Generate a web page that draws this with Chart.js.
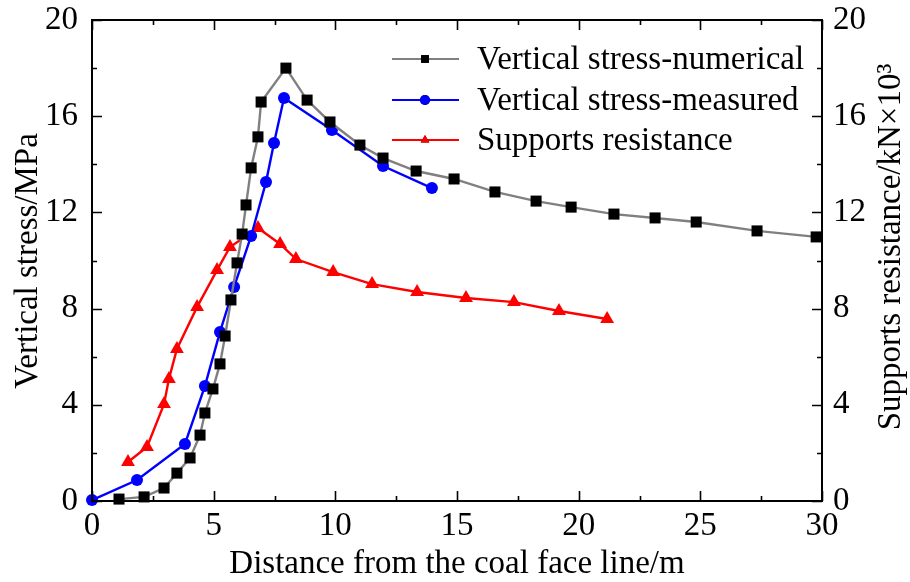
<!DOCTYPE html>
<html>
<head>
<meta charset="utf-8">
<script src="https://cdn.jsdelivr.net/npm/chart.js@4/dist/chart.umd.min.js"></script>
<style>
    html, body { margin: 0; padding: 0; background: #fff; }
</style>
</head>
<body>
<canvas id="myChart" width="910" height="582"></canvas>
<script>
// Vertical stress - numerical (distance m, stress MPa)
const numX = [1.11, 2.14, 2.96, 3.49, 4.03, 4.44, 4.64, 4.97, 5.26, 5.47, 5.71, 5.96, 6.17, 6.33, 6.54, 6.82, 6.95,
    7.97, 8.84, 9.78, 11.01, 11.96, 13.32, 14.88, 16.56, 18.25, 19.69, 21.45, 23.14, 24.83, 27.33, 29.76];
const numY = [0.08, 0.17, 0.54, 1.16, 1.79, 2.74, 3.66, 4.66, 5.70, 6.86, 8.36, 9.90, 11.10, 12.31, 13.85, 15.14, 16.59,
    18.00, 16.67, 15.76, 14.80, 14.26, 13.72, 13.39, 12.85, 12.47, 12.22, 11.93, 11.77, 11.60, 11.23, 10.98];

// Vertical stress - measured
const measX = [0, 1.85, 3.82, 4.64, 5.26, 5.84, 6.54, 7.15, 7.48, 7.89, 9.86, 11.96, 13.97];
const measY = [0.04, 0.87, 2.37, 4.78, 7.03, 8.90, 11.02, 13.26, 14.89, 16.76, 15.43, 13.93, 13.01];

// Supports resistance (kN x 10^3)
const supX = [1.48, 2.26, 2.96, 3.16, 3.49, 4.32, 5.14, 5.67, 6.82, 7.73, 8.38, 9.91, 11.51, 13.36, 15.37, 17.34, 19.19, 21.17];
const supY = [1.62, 2.25, 4.03, 5.07, 6.32, 8.07, 9.60, 10.56, 11.35, 10.69, 10.06, 9.52, 9.02, 8.69, 8.44, 8.27, 7.90, 7.57];

const xTicks = [0, 5, 10, 15, 20, 25, 30];
const yTicks = [0, 4, 8, 12, 16, 20];

const labels = ['Vertical stress-numerical', 'Vertical stress-measured', 'Supports resistance'];

const FONT = '"Liberation Serif", "Times New Roman", serif';
const FS = 33;

function pts(xs, ys) {
    return xs.map((x, i) => ({ x: x, y: ys[i] }));
}

// box, inward ticks, y titles and the line+marker legend
const framePlugin = {
    id: 'frame',
    afterDraw(chart) {
        const ctx = chart.ctx;
        const a = chart.chartArea;
        const xs = chart.scales.x;
        const ys = chart.scales.y;
        ctx.save();
        ctx.strokeStyle = '#000';
        ctx.lineWidth = 2;
        ctx.strokeRect(a.left, a.top, a.right - a.left, a.bottom - a.top);

        ctx.lineWidth = 1.6;
        ctx.beginPath();
        for (let v = 0; v <= 30; v += 2.5) {
            const px = Math.round(xs.getPixelForValue(v)) + 0.5;
            const len = (v % 5 === 0) ? 10 : 5;
            ctx.moveTo(px, a.bottom); ctx.lineTo(px, a.bottom - len);
            ctx.moveTo(px, a.top); ctx.lineTo(px, a.top + len);
        }
        for (let v = 0; v <= 20; v += 2) {
            const py = Math.round(ys.getPixelForValue(v)) + 0.5;
            const len = (v % 4 === 0) ? 10 : 5;
            ctx.moveTo(a.left, py); ctx.lineTo(a.left + len, py);
            ctx.moveTo(a.right, py); ctx.lineTo(a.right - len, py);
        }
        ctx.stroke();

        // axis titles on the sides (both read bottom to top)
        ctx.fillStyle = '#000';
        ctx.font = FS + 'px ' + FONT;
        ctx.textAlign = 'center';
        ctx.textBaseline = 'middle';
        ctx.save();
        ctx.translate(28, 261);
        ctx.rotate(-Math.PI / 2);
        ctx.fillText('Vertical stress/MPa', 0, 0);
        ctx.restore();
        ctx.save();
        ctx.translate(891, 247);
        ctx.rotate(-Math.PI / 2);
        ctx.fillText('Supports resistance/kN\u00d710\u00b3', 0, 0);
        ctx.restore();

        // legend
        const rows = [59, 100, 140];
        chart.data.datasets.forEach((ds, i) => {
            const y = rows[i];
            ctx.strokeStyle = ds.borderColor;
            ctx.lineWidth = 2.2;
            ctx.beginPath();
            ctx.moveTo(392, y); ctx.lineTo(459, y);
            ctx.stroke();
            Chart.helpers.drawPoint(ctx, {
                pointStyle: ds.pointStyle, radius: ds.pointStyle === 'rect' ? 5.5 : 5,
                rotation: 0, borderWidth: 0
            }, 425, y);
            ctx.fillStyle = ds.pointBackgroundColor;
            ctx.fill();
            ctx.fillStyle = '#000';
            ctx.font = FS + 'px ' + FONT;
            ctx.textAlign = 'left';
            ctx.textBaseline = 'middle';
            ctx.fillText(ds.label, 477, y + 1);
        });
        ctx.restore();
    }
};

function fitY(w) {
    return (s) => {
        s.width = w;
        s.paddingTop = 20;
        s.paddingBottom = 0;
    };
}

const ctx = document.getElementById('myChart');

new Chart(ctx, {
    type: 'line',
    data: {
        datasets: [{
            label: labels[0],
            data: pts(numX, numY),
            borderColor: '#808080',
            borderWidth: 2.4,
            pointStyle: 'rect',
            pointRadius: 7.8,
            pointBackgroundColor: '#000',
            pointBorderWidth: 0,
            yAxisID: 'y'
        }, {
            label: labels[1],
            data: pts(measX, measY),
            borderColor: '#0000ff',
            borderWidth: 2.4,
            pointStyle: 'circle',
            pointRadius: 6,
            pointBackgroundColor: '#0000ff',
            pointBorderWidth: 0,
            yAxisID: 'y'
        }, {
            label: labels[2],
            data: pts(supX, supY),
            borderColor: '#ff0000',
            borderWidth: 2.4,
            pointStyle: 'triangle',
            pointRadius: 8,
            pointBackgroundColor: '#ff0000',
            pointBorderWidth: 0,
            yAxisID: 'y2'
        }]
    },
    options: {
        responsive: false,
        animation: false,
        clip: false,
        layout: { padding: 0 },
        plugins: {
            legend: { display: false },
            tooltip: { enabled: false }
        },
        scales: {
            x: {
                type: 'linear',
                min: 0,
                max: 30,
                afterFit: (s) => { s.height = 81; s.paddingLeft = 0; s.paddingRight = 0; },
                afterBuildTicks: (s) => { s.ticks = xTicks.map(v => ({ value: v })); },
                grid: { display: false, drawTicks: false },
                border: { display: false },
                ticks: { color: '#000', padding: 6, font: { family: FONT, size: FS } },
                title: {
                    display: true,
                    text: 'Distance from the coal face line/m',
                    color: '#000',
                    padding: { top: 0, bottom: 0 },
                    font: { family: FONT, size: FS, lineHeight: 1.1 }
                }
            },
            y: {
                position: 'left',
                min: 0,
                max: 20,
                afterFit: fitY(92),
                afterBuildTicks: (s) => { s.ticks = yTicks.map(v => ({ value: v })); },
                grid: { display: false, drawTicks: false },
                border: { display: false },
                ticks: { color: '#000', padding: 14, font: { family: FONT, size: FS } }
            },
            y2: {
                position: 'right',
                min: 0,
                max: 20,
                afterFit: fitY(88),
                afterBuildTicks: (s) => { s.ticks = yTicks.map(v => ({ value: v })); },
                grid: { display: false, drawTicks: false },
                border: { display: false },
                ticks: { color: '#000', padding: 11, font: { family: FONT, size: FS } }
            }
        }
    },
    plugins: [framePlugin]
});
</script>
</body>
</html>
